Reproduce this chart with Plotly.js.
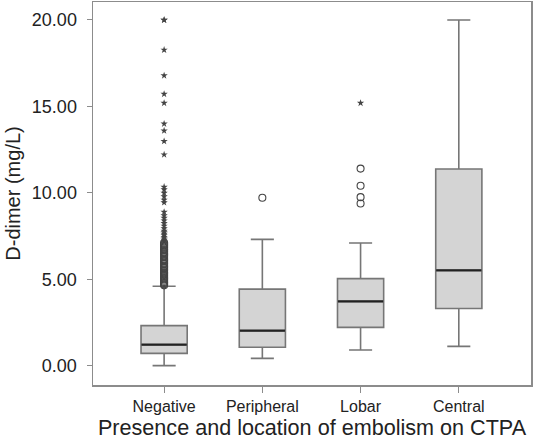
<!DOCTYPE html>
<html>
<head>
<meta charset="utf-8">
<script src="https://cdn.plot.ly/plotly-3.0.1.min.js"></script>
<style>html,body{margin:0;padding:0;background:#fff;}#chart{width:534px;height:442px;}</style>
</head>
<body>
<div id="chart"></div>
<script>
const categories = ["Negative", "Peripheral", "Lobar", "Central"];
const q1Values = [0.73, 1.08, 2.23, 3.32];
const medianValues = [1.23, 2.04, 3.73, 5.53];
const q3Values = [2.33, 4.44, 5.05, 11.39];
const lowerWhisker = [0.02, 0.44, 0.92, 1.13];
const upperWhisker = [4.61, 7.32, 7.11, 20.0];

// outliers (circles) and extreme values (stars)
const negCircles = [4.66, 4.72, 4.8, 4.85, 4.93, 5.0, 5.06, 5.12, 5.2, 5.28, 5.35, 5.41, 5.5, 5.58, 5.66, 5.73, 5.8, 5.9, 5.97, 6.05, 6.12, 6.2, 6.3, 6.38, 6.45, 6.52, 6.6, 6.68, 6.75, 6.83, 6.9, 6.98, 7.05, 7.12];
const negStars = [7.2, 7.28, 7.36, 7.45, 7.55, 7.63, 7.72, 7.8, 7.95, 8.1, 8.25, 8.4, 8.55, 8.7, 8.9, 9.45, 9.6, 9.8, 10.0, 10.2, 10.35, 12.22, 12.99, 13.6, 14.0, 15.2, 15.72, 16.79, 18.27, 20.0, 20.0];
const periCircles = [9.72];
const lobarCircles = [9.39, 9.76, 10.42, 11.41];
const lobarStars = [15.2];
const yTickVals = [0, 5, 10, 15, 20];

const circleX = [], circleY = [], starX = [], starY = [];
negCircles.forEach(v => { circleX.push(categories[0]); circleY.push(v); });
periCircles.forEach(v => { circleX.push(categories[1]); circleY.push(v); });
lobarCircles.forEach(v => { circleX.push(categories[2]); circleY.push(v); });
negStars.forEach(v => { starX.push(categories[0]); starY.push(v); });
lobarStars.forEach(v => { starX.push(categories[2]); starY.push(v); });

const boxColor = "#767676";
const traces = [
  {
    type: "box",
    x: categories,
    q1: q1Values,
    median: medianValues,
    q3: q3Values,
    lowerfence: lowerWhisker,
    upperfence: upperWhisker,
    width: 0.47,
    whiskerwidth: 0.5,
    boxpoints: false,
    fillcolor: "#d4d4d4",
    line: {color: boxColor, width: 1.6},
    hoverinfo: "skip",
    showlegend: false
  },
  {
    type: "scatter",
    mode: "markers",
    x: categories,
    y: medianValues,
    marker: {symbol: "line-ew", size: 32.3, color: "#222", line: {color: "#222", width: 2.2}},
    hoverinfo: "skip",
    showlegend: false
  },
  {
    type: "scatter",
    mode: "markers",
    x: circleX,
    y: circleY,
    marker: {symbol: "circle-open", size: 7, color: "#444", line: {color: "#444", width: 1.1}},
    hoverinfo: "skip",
    showlegend: false
  },
  {
    type: "scatter",
    mode: "markers",
    x: starX,
    y: starY,
    marker: {symbol: "star", size: 5.5, color: "#444", line: {width: 0}},
    hoverinfo: "skip",
    showlegend: false
  }
];

const layout = {
  width: 534,
  height: 442,
  margin: {l: 93, r: 3, t: 2, b: 57},
  paper_bgcolor: "#fff",
  plot_bgcolor: "#fff",
  font: {family: "Liberation Sans, Arial, sans-serif", color: "#222"},
  xaxis: {
    type: "category",
    range: [-0.724, 3.735],
    showgrid: false,
    zeroline: false,
    showline: true,
    mirror: true,
    linecolor: "#8c8c8c",
    linewidth: 1.5,
    ticks: "outside",
    ticklen: 6,
    tickcolor: "#8c8c8c",
    tickfont: {size: 16, color: "#222"},
    title: {text: "Presence and location of embolism on CTPA", font: {size: 21.6, color: "#222"}, standoff: 4}
  },
  yaxis: {
    range: [-1.1, 21.04],
    tickvals: yTickVals,
    tickformat: ".2f",
    showgrid: false,
    zeroline: false,
    showline: true,
    mirror: true,
    linecolor: "#8c8c8c",
    linewidth: 1.5,
    ticks: "outside",
    ticklen: 5,
    tickcolor: "#8c8c8c",
    ticklabelstandoff: 6,
    tickfont: {size: 18, color: "#222"},
    title: {text: "D-dimer (mg/L)", font: {size: 20, color: "#222"}, standoff: 6}
  }
};

Plotly.newPlot("chart", traces, layout, {staticPlot: true, displayModeBar: false});
</script>
</body>
</html>
